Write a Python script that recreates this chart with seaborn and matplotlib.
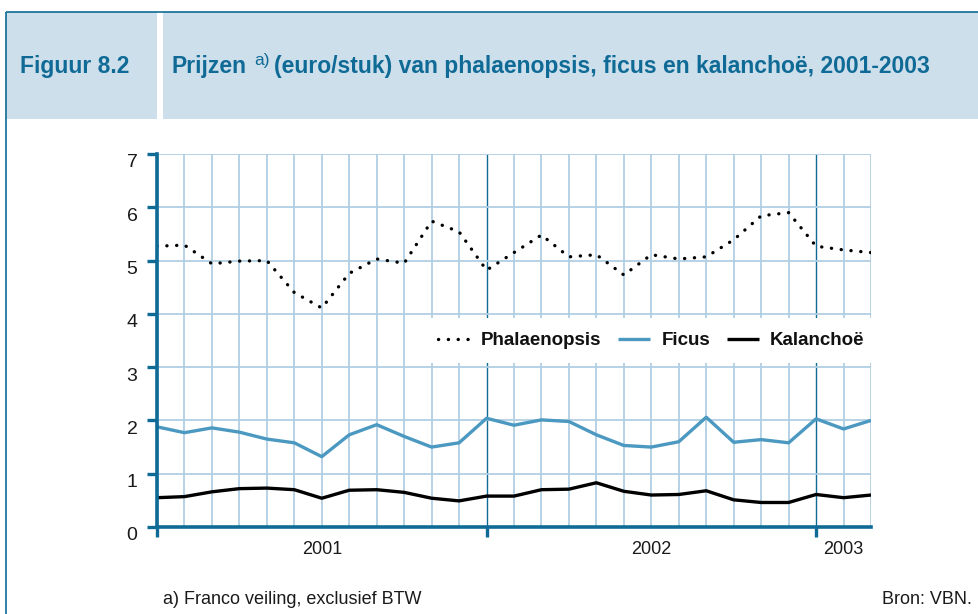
import numpy as np
import pandas as pd
import matplotlib
matplotlib.use("Agg")
import matplotlib.pyplot as plt
import matplotlib.transforms as mtransforms
from matplotlib.patches import Rectangle
from matplotlib.lines import Line2D
import seaborn as sns

# monthly prices, jan 2001 .. mar 2003
years = ["2001", "2002", "2003"]
year_start = [0, 12, 24]
year_end = [12, 24, 26]
months = list(range(27))
phalaenopsis = [5.27, 5.29, 4.94, 4.99, 5.00, 4.40, 4.11, 4.76, 5.03, 4.95, 5.74, 5.54,
                4.82, 5.15, 5.48, 5.07, 5.11, 4.73, 5.11, 5.03, 5.07, 5.39, 5.84, 5.90,
                5.27, 5.20, 5.15]
ficus = [1.88, 1.77, 1.86, 1.78, 1.65, 1.58, 1.32, 1.73, 1.92, 1.70, 1.50, 1.58,
         2.04, 1.91, 2.01, 1.98, 1.73, 1.53, 1.50, 1.60, 2.06, 1.59, 1.64, 1.58,
         2.03, 1.84, 2.00]
kalanchoe = [0.55, 0.57, 0.66, 0.72, 0.73, 0.70, 0.54, 0.69, 0.70, 0.65, 0.54, 0.49,
             0.58, 0.58, 0.70, 0.71, 0.83, 0.67, 0.60, 0.61, 0.68, 0.51, 0.46, 0.46,
             0.61, 0.55, 0.60]
series = ["Phalaenopsis", "Ficus", "Kalanchoë"]

df = pd.DataFrame({
    "maand": months * 3,
    "prijs": phalaenopsis + ficus + kalanchoe,
    "product": np.repeat(series, len(months)),
})

DARK = "#0f6b96"
HEAD_BG = "#cedfec"
GRID = "#b0cfe3"
FICUS = "#4b98c1"

sns.set_theme(style="white")
plt.rcParams["font.family"] = ["Liberation Sans", "DejaVu Sans"]
plt.rcParams["lines.dash_capstyle"] = "round"
plt.rcParams["lines.solid_capstyle"] = "butt"

W, H = 979, 614
fig = plt.figure(figsize=(W / 100, H / 100), dpi=100)
fig.patch.set_facecolor("white")

def fx(x):
    return x / W

def fy(y):
    return 1 - y / H

# header
fig.patches.append(Rectangle((fx(6), fy(119)), fx(157 - 6), (119 - 12) / H,
                             transform=fig.transFigure, facecolor=HEAD_BG, edgecolor="none", zorder=0))
fig.patches.append(Rectangle((fx(163), fy(119)), fx(W - 163), (119 - 12) / H,
                             transform=fig.transFigure, facecolor=HEAD_BG, edgecolor="none", zorder=0))
fig.lines.append(Line2D([fx(6), 1], [fy(12), fy(12)], transform=fig.transFigure, color=DARK, lw=1.2))
fig.lines.append(Line2D([fx(6), fx(6)], [0, fy(12)], transform=fig.transFigure, color=DARK, lw=1.2))

fig.text(fx(20), fy(66), "Figuur 8.2", color=DARK, fontsize=16.5, fontweight="bold", va="center", ha="left")

r = fig.canvas.get_renderer()
t1 = fig.text(fx(172), fy(66), "Prijzen", color=DARK, fontsize=16.5, fontweight="bold", va="center", ha="left")
bb = t1.get_window_extent(r)
t2 = fig.text(fx(bb.x1 + 7), fy(60), "a)", color=DARK, fontsize=12.5, va="center", ha="left")
bb2 = t2.get_window_extent(r)
fig.text(fx(bb2.x1 + 5), fy(66), "(euro/stuk) van phalaenopsis, ficus en kalanchoë, 2001-2003",
         color=DARK, fontsize=16.5, fontweight="bold", va="center", ha="left")

# chart
ax = fig.add_axes([fx(157), fy(527), fx(871 - 157), (527 - 154) / H])
ax.set_facecolor("white")
sns.lineplot(data=df, x="maand", y="prijs", hue="product", style="product",
             hue_order=series, style_order=series,
             palette={"Phalaenopsis": "black", "Ficus": FICUS, "Kalanchoë": "black"},
             dashes={"Phalaenopsis": (0.05, 2.9), "Ficus": "", "Kalanchoë": ""},
             linewidth=2.4, legend=False, ax=ax, zorder=3)

ax.set_xlim(0, 26)
ax.set_ylim(0, 7)
ax.set_yticks(range(8))
ax.set_xticks(year_start)
ax.set_xticks([m for m in months if m % 12 != 0], minor=True)
ax.set_xticklabels([])
ax.set_xlabel("")
ax.set_ylabel("")

ax.set_axisbelow(True)
ax.grid(axis="y", which="major", color=GRID, lw=1.3)
ax.grid(axis="x", which="minor", color=GRID, lw=1.3)
ax.grid(axis="x", which="major", color=DARK, lw=1.0)

for side in ["top", "right"]:
    ax.spines[side].set_visible(False)
for side in ["left", "bottom"]:
    ax.spines[side].set_color(DARK)
    ax.spines[side].set_linewidth(2.6)
    ax.spines[side].set_zorder(4)

ax.tick_params(axis="y", which="major", left=True, direction="out", length=7, width=2.4,
               color=DARK, labelsize=14, labelcolor="#1a1a1a", pad=7)
ax.tick_params(axis="x", which="major", bottom=True, direction="out", length=7, width=2.4,
               color=DARK)
ax.tick_params(axis="x", which="minor", bottom=False, length=0)
shift = mtransforms.ScaledTranslation(0, -5 / 72, fig.dpi_scale_trans)
for lbl in ax.get_yticklabels():
    lbl.set_transform(lbl.get_transform() + shift)

for yr, s, e in zip(years, year_start, year_end):
    ax.text((s + e) / 2, -(549.5 - 527) / (527 - 154), yr, transform=ax.get_xaxis_transform(),
            ha="center", va="center", fontsize=13, color="#1a1a1a")

leg = ax.legend(handles=ax.lines[:3], labels=series, loc="center", ncol=3,
                bbox_to_anchor=(10, 3, 16, 1), bbox_transform=ax.transData,
                frameon=True, facecolor="white", edgecolor="none", framealpha=1,
                fancybox=False, borderaxespad=0, borderpad=0.75,
                handlelength=1.7, handletextpad=0.6, columnspacing=0.9,
                prop={"weight": "bold", "size": 13.5})
leg.get_frame().set_linewidth(0)
for txt in leg.get_texts():
    txt.set_color("#111111")

# footnotes
fig.text(fx(163), fy(600), "a) Franco veiling, exclusief BTW", fontsize=13, color="#1a1a1a",
         ha="left", va="center")
fig.text(fx(972), fy(600), "Bron: VBN.", fontsize=13, color="#1a1a1a", ha="right", va="center")

fig.savefig("out.png", dpi=100, facecolor="white")
